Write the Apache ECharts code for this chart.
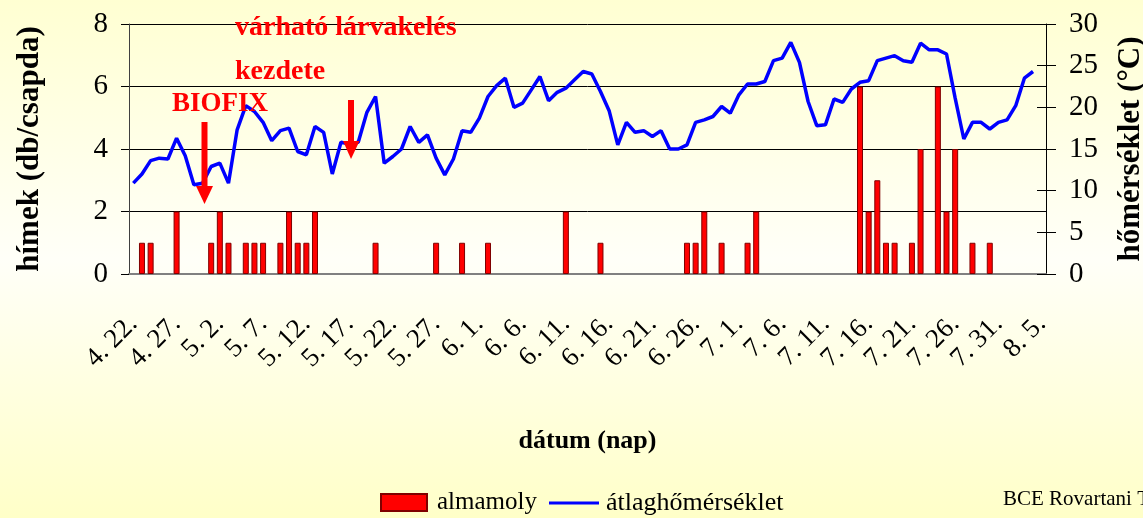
<!DOCTYPE html>
<html>
<head>
<meta charset="utf-8">
<title>almamoly - átlaghőmérséklet</title>
<script src="https://cdn.jsdelivr.net/npm/echarts@6/dist/echarts.min.js"></script>
<style>
  html, body { margin: 0; padding: 0; }
  #chart { width: 1143px; height: 518px; }
</style>
</head>
<body>
<div id="chart"></div>
<script>
// napok (4.22 - 8.5)
const days = [
  '4. 22.', '4. 23.', '4. 24.', '4. 25.', '4. 26.', '4. 27.', '4. 28.', '4. 29.', '4. 30.',
  '5. 1.', '5. 2.', '5. 3.', '5. 4.', '5. 5.', '5. 6.', '5. 7.', '5. 8.', '5. 9.', '5. 10.',
  '5. 11.', '5. 12.', '5. 13.', '5. 14.', '5. 15.', '5. 16.', '5. 17.', '5. 18.', '5. 19.', '5. 20.',
  '5. 21.', '5. 22.', '5. 23.', '5. 24.', '5. 25.', '5. 26.', '5. 27.', '5. 28.', '5. 29.', '5. 30.', '5. 31.',
  '6. 1.', '6. 2.', '6. 3.', '6. 4.', '6. 5.', '6. 6.', '6. 7.', '6. 8.', '6. 9.', '6. 10.',
  '6. 11.', '6. 12.', '6. 13.', '6. 14.', '6. 15.', '6. 16.', '6. 17.', '6. 18.', '6. 19.', '6. 20.',
  '6. 21.', '6. 22.', '6. 23.', '6. 24.', '6. 25.', '6. 26.', '6. 27.', '6. 28.', '6. 29.', '6. 30.',
  '7. 1.', '7. 2.', '7. 3.', '7. 4.', '7. 5.', '7. 6.', '7. 7.', '7. 8.', '7. 9.', '7. 10.',
  '7. 11.', '7. 12.', '7. 13.', '7. 14.', '7. 15.', '7. 16.', '7. 17.', '7. 18.', '7. 19.', '7. 20.',
  '7. 21.', '7. 22.', '7. 23.', '7. 24.', '7. 25.', '7. 26.', '7. 27.', '7. 28.', '7. 29.', '7. 30.', '7. 31.',
  '8. 1.', '8. 2.', '8. 3.', '8. 4.', '8. 5.'
];

// almamoly fogás (db/csapda)
const moths = [
  0, 1, 1, 0, 0, 2, 0, 0, 0, 1,
  2, 1, 0, 1, 1, 1, 0, 1, 2, 1,
  1, 2, 0, 0, 0, 0, 0, 0, 1, 0,
  0, 0, 0, 0, 0, 1, 0, 0, 1, 0,
  0, 1, 0, 0, 0, 0, 0, 0, 0, 0,
  2, 0, 0, 0, 1, 0, 0, 0, 0, 0,
  0, 0, 0, 0, 1, 1, 2, 0, 1, 0,
  0, 1, 2, 0, 0, 0, 0, 0, 0, 0,
  0, 0, 0, 0, 6, 2, 3, 1, 1, 0,
  1, 4, 0, 6, 2, 4, 0, 1, 0, 1,
  0, 0, 0, 0, 0, 0
];

// átlaghőmérséklet (°C)
const temps = [
  10.9, 12.0, 13.6, 13.9, 13.8, 16.3, 14.2, 10.7, 10.9, 12.9,
  13.3, 10.9, 17.3, 20.2, 19.5, 18.2, 16.0, 17.2, 17.5, 14.7,
  14.3, 17.7, 17.0, 12.0, 15.8, 15.6, 15.8, 19.4, 21.3, 13.3,
  14.1, 15.0, 17.7, 15.8, 16.7, 13.9, 11.9, 13.8, 17.2, 17.0,
  18.7, 21.3, 22.6, 23.5, 20.0, 20.5, 22.1, 23.7, 20.8, 21.8,
  22.3, 23.3, 24.3, 24.0, 21.9, 19.6, 15.5, 18.2, 17.0, 17.2,
  16.5, 17.2, 15.0, 15.0, 15.5, 18.2, 18.5, 18.9, 20.1, 19.3,
  21.5, 22.8, 22.8, 23.1, 25.6, 25.9, 27.8, 25.4, 20.7, 17.8,
  17.9, 21.0, 20.6, 22.2, 23.0, 23.2, 25.6, 25.9, 26.2, 25.6,
  25.4, 27.7, 26.9, 26.9, 26.4, 21.1, 16.2, 18.2, 18.2, 17.4,
  18.2, 18.5, 20.2, 23.5, 24.3, null
];

const serif = "'Liberation Serif', 'Times New Roman', serif";
const red = '#FF0000';

var myChart = echarts.init(document.getElementById('chart'));
myChart.setOption({
  animation: false,
  backgroundColor: new echarts.graphic.LinearGradient(0, 0, 0, 1, [
    { offset: 0, color: '#FFFFD2' },
    { offset: 0.5, color: '#FFFFF8' },
    { offset: 1, color: '#FFFFC8' }
  ]),
  textStyle: { fontFamily: serif, color: '#000' },
  grid: { left: 129, right: 97, top: 24, bottom: 244, outerBoundsMode: 'none' },
  legend: [
    {
      left: 375,
      top: 485,
      itemWidth: 46,
      itemHeight: 17,
      textStyle: { fontSize: 25, fontFamily: serif, color: '#000', padding: [0, 0, 0, 5] },
      data: [{ name: 'almamoly', icon: 'rect' }]
    },
    {
      left: 544,
      top: 485,
      itemWidth: 50,
      itemHeight: 17,
      textStyle: { fontSize: 26, fontFamily: serif, color: '#000', padding: [0, 0, 0, 2] },
      data: [{ name: 'átlaghőmérséklet', icon: 'path://M0,0 H50 V3 H0 Z' }]
    }
  ],
  xAxis: [
    {
      type: 'category',
      data: days,
      name: 'dátum (nap)',
      nameLocation: 'middle',
      nameGap: 154,
      nameTextStyle: { fontSize: 26, fontWeight: 'bold', fontFamily: serif, color: '#000' },
      axisLine: { lineStyle: { color: '#808080', width: 2 } },
      axisTick: { interval: 4, length: 10, lineStyle: { color: '#000' } },
      axisLabel: { interval: 4, rotate: 45, margin: 46, fontSize: 27, fontFamily: serif, color: '#000' }
    },
    {
      // a keresztező osztásjelek felső fele
      type: 'category',
      data: days,
      position: 'bottom',
      axisLine: { show: false },
      axisTick: { inside: true, interval: 4, length: 7, lineStyle: { color: '#000' } },
      axisLabel: { show: false }
    }
  ],
  yAxis: [
    {
      type: 'value',
      min: 0,
      max: 8,
      interval: 2,
      position: 'left',
      name: 'hímek (db/csapda)',
      nameLocation: 'middle',
      nameRotate: 90,
      nameGap: 84,
      nameTextStyle: { fontSize: 31, fontWeight: 'bold', fontFamily: serif, color: '#000' },
      axisLine: { show: true, lineStyle: { color: '#404040' } },
      axisTick: { show: true, length: 8, lineStyle: { color: '#000' } },
      axisLabel: { fontSize: 29, margin: 21, fontFamily: serif, color: '#000' },
      splitLine: { show: true, lineStyle: { color: '#000', width: 1 } }
    },
    {
      type: 'value',
      min: 0,
      max: 30,
      interval: 5,
      position: 'right',
      name: 'hőmérséklet (°C)',
      nameLocation: 'middle',
      nameRotate: 90,
      nameGap: 69,
      nameTextStyle: { fontSize: 31, fontWeight: 'bold', fontFamily: serif, color: '#000' },
      axisLine: { show: true, lineStyle: { color: '#000' } },
      axisTick: { show: true, length: 10, lineStyle: { color: '#000' } },
      axisLabel: { fontSize: 29, margin: 23, fontFamily: serif, color: '#000' },
      splitLine: { show: false }
    },
    {
      type: 'value',
      min: 0,
      max: 30,
      interval: 5,
      position: 'right',
      axisLine: { show: false },
      axisTick: { show: true, inside: true, length: 9, lineStyle: { color: '#000' } },
      axisLabel: { show: false },
      splitLine: { show: false }
    }
  ],
  series: [
    {
      name: 'almamoly',
      type: 'bar',
      // nulla fogásnál nincs oszlop
      data: moths.map(v => (v === 0 ? null : v)),
      barWidth: 6,
      itemStyle: { color: red, borderColor: '#7F0000', borderWidth: 1 }
    },
    {
      name: 'átlaghőmérséklet',
      type: 'line',
      yAxisIndex: 1,
      data: temps,
      symbol: 'none',
      lineStyle: { color: '#0000FF', width: 3.5 },
      itemStyle: { color: '#0000FF' }
    }
  ],
  graphic: [
    { type: 'text', left: 235, top: 14, z: 10, style: { text: 'várható lárvakelés', font: 'bold 28px ' + serif, fill: red } },
    { type: 'text', left: 235, top: 58, z: 10, style: { text: 'kezdete', font: 'bold 28px ' + serif, fill: red } },
    { type: 'text', left: 172, top: 91, z: 10, style: { text: 'BIOFIX', font: 'bold 27px ' + serif, fill: red } },
    // nyilak
    { type: 'rect', z: 10, shape: { x: 201.5, y: 122, width: 6, height: 66 }, style: { fill: red } },
    { type: 'polygon', z: 10, shape: { points: [[196, 186], [213, 186], [204.5, 204]] }, style: { fill: red } },
    { type: 'rect', z: 10, shape: { x: 348, y: 100, width: 6, height: 43 }, style: { fill: red } },
    { type: 'polygon', z: 10, shape: { points: [[343, 141], [359.5, 141], [351, 159]] }, style: { fill: red } },
    { type: 'text', left: 1003, top: 489, style: { text: 'BCE Rovartani Tanszék', font: '21px ' + serif, fill: '#000' } }
  ]
});
</script>
</body>
</html>
